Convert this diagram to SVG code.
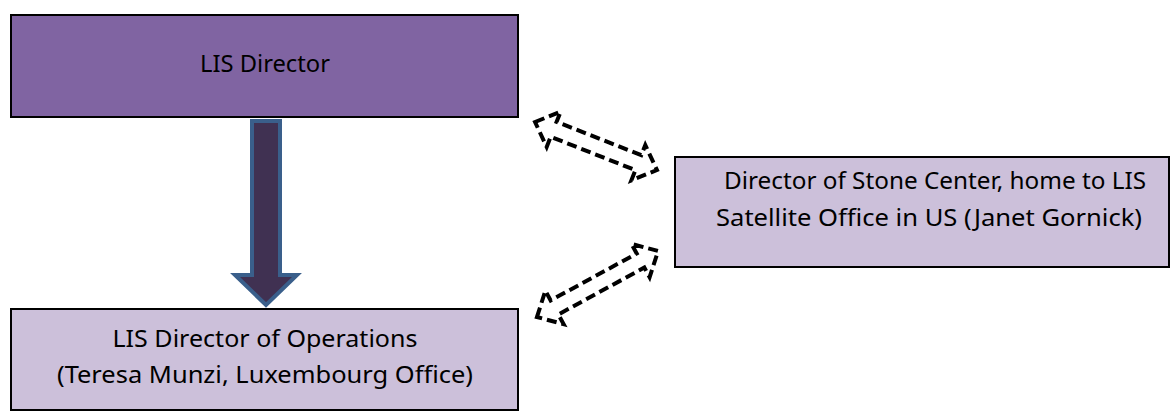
<svg xmlns="http://www.w3.org/2000/svg" width="1171" height="411" viewBox="0 0 1171 411">
<style>
.box{stroke:#000;stroke-width:2}
.dark{fill:#8064a2}
.light{fill:#ccc0da}
.t{font-family:"Noto Sans","Open Sans",sans-serif;font-size:24px;fill:#000;text-anchor:middle}
.dash{fill:none;stroke:#000;stroke-width:4;stroke-dasharray:10 5}
.down{fill:#403152;stroke:#3a5f8b;stroke-width:4}
</style>
<rect width="1171" height="411" fill="#fff"/>
<g id="connectors">
<path class="down" d="M252,121 L280,121 L280,275 L297,275 L266,305 L235,275 L252,275 Z"/>
<path class="dash" transform="translate(596,146) rotate(21.5)" d="M-65.5,0 L-45.5,-19 L-45.5,-8 L45.5,-8 L45.5,-19 L65.5,0 L45.5,19 L45.5,8 L-45.5,8 L-45.5,19 Z"/>
<path class="dash" transform="translate(597.5,284) rotate(-28.6)" d="M-69,0 L-49,-19 L-49,-8 L49,-8 L49,-19 L69,0 L49,19 L49,8 L-49,8 L-49,19 Z"/>
</g>
<g id="lis-director">
<rect class="box dark" x="11" y="15" width="507" height="102"/>
<text class="t" x="265" y="72" textLength="130" lengthAdjust="spacingAndGlyphs">LIS Director</text>
</g>
<g id="stone-center">
<rect class="box light" x="675" y="157" width="494" height="110"/>
<text class="t" x="935" y="189" textLength="422" lengthAdjust="spacingAndGlyphs">Director of Stone Center, home to LIS</text>
<text class="t" x="929" y="226" textLength="426" lengthAdjust="spacingAndGlyphs">Satellite Office in US (Janet Gornick)</text>
</g>
<g id="operations">
<rect class="box light" x="11" y="309" width="507" height="101"/>
<text class="t" x="265" y="347" textLength="305" lengthAdjust="spacingAndGlyphs">LIS Director of Operations</text>
<text class="t" x="265" y="383" textLength="416" lengthAdjust="spacingAndGlyphs">(Teresa Munzi, Luxembourg Office)</text>
</g>
</svg>
